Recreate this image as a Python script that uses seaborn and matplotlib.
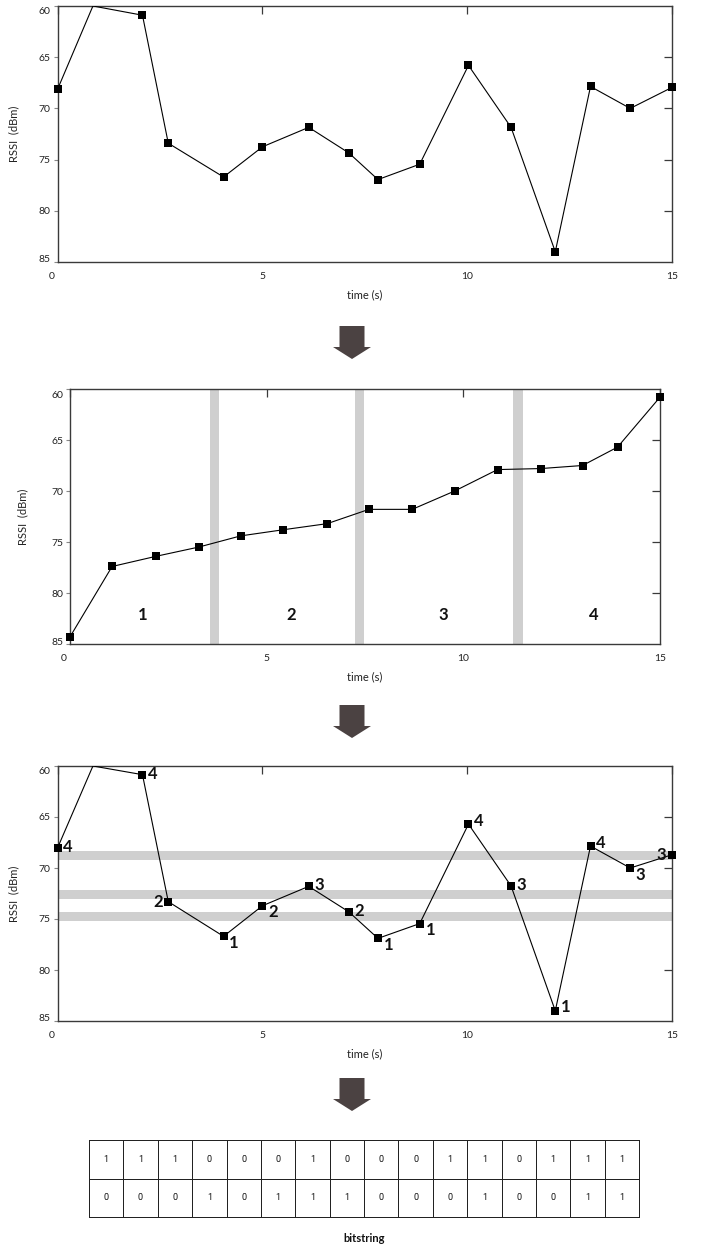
import numpy as np
import pandas as pd
import matplotlib
matplotlib.use("Agg")
import matplotlib.pyplot as plt
import matplotlib.transforms as mtrans
from matplotlib.colors import ListedColormap
from matplotlib.patches import Polygon
import seaborn as sns

# ---------------- data ----------------
sample_time = [0.0, 2.07, 2.70, 4.05, 5.0, 6.13, 7.11, 7.82, 8.84, 10.03, 11.07, 12.15, 13.01, 13.98, 15.0]
rssi_raw = [68.1, 60.9, 73.4, 76.7, 73.75, 71.85, 74.35, 76.95, 75.45, 65.8, 71.85, 84.0, 67.86, 70.0, 67.95]
peak_time = 0.86
peak_rssi = 60.0

sorted_time = [0.0, 1.07, 2.19, 3.27, 4.34, 5.42, 6.54, 7.6, 8.7, 9.78, 10.87, 11.97, 13.03, 13.92, 15.0]
sorted_rssi = [84.3, 77.4, 76.4, 75.5, 74.4, 73.8, 73.2, 71.8, 71.8, 70.0, 67.9, 67.8, 67.5, 65.7, 60.8]
region_bounds = [3.67, 7.36, 11.39]
region_names = ["1", "2", "3", "4"]
region_centers = [1.85, 5.63, 9.48, 13.31]
region_label_rssi = 82.2

rssi_quant = [68.0, 60.85, 73.3, 76.7, 73.7, 71.8, 74.3, 76.9, 75.45, 65.7, 71.76, 84.0, 67.85, 70.0, 68.7]
thresholds = [68.75, 72.6, 74.75]
levels = ["4", "4", "2", "1", "2", "3", "2", "1", "1", "4", "3", "1", "4", "3", "3"]

bits_row1 = [1, 1, 1, 0, 0, 0, 1, 0, 0, 0, 1, 1, 0, 1, 1, 1]
bits_row2 = [0, 0, 0, 1, 0, 1, 1, 1, 0, 0, 0, 1, 0, 0, 1, 1]

x_ticks = [0, 5, 10, 15]
y_ticks = [60, 65, 70, 75, 80, 85]

# ---------------- style ----------------
sns.set_style("white")
plt.rcParams["font.family"] = ["Lato", "DejaVu Sans"]

W, H = 701, 1250
fig = plt.figure(figsize=(W / 100, H / 100), dpi=100)
fig.patch.set_facecolor("white")

px = 72 / 100.0  # points per pixel


def px_axes(left, top, right, bottom):
    return fig.add_axes([left / W, 1 - bottom / H, (right - left) / W, (bottom - top) / H])


SPINE = "#3a3a3a"
BAND = "#cfcfcf"


def style_axes(ax, ylab_x):
    ax.set_xlim(0, 15)
    ax.set_ylim(85, 60)
    ax.set_xticks(x_ticks)
    ax.set_yticks(y_ticks)
    ax.set_xticklabels([str(t) for t in x_ticks])
    ax.set_yticklabels([str(t) for t in y_ticks])
    for s in ax.spines.values():
        s.set_visible(True)
        s.set_color(SPINE)
        s.set_linewidth(1.0)
    ax.tick_params(axis="x", bottom=False, top=True, direction="in", length=6,
                   width=0.9, color=SPINE, labelsize=7.5, pad=7, labelcolor="#222")
    ax.tick_params(axis="y", left=True, right=False, direction="out", length=3,
                   width=0.8, color="#888", labelsize=7.5, pad=2, labelcolor="#222")
    sec = ax.secondary_yaxis("right")
    sec.set_yticks([65, 70, 75, 80])
    sec.tick_params(direction="in", length=6, width=0.9, color=SPINE, labelright=False)
    sec.spines["right"].set_visible(False)
    labs = ax.get_xticklabels()
    labs[0].set_transform(labs[0].get_transform() + mtrans.ScaledTranslation(-6 / 100, 0, fig.dpi_scale_trans))
    ylabs = ax.get_yticklabels()
    ylabs[0].set_transform(ylabs[0].get_transform() + mtrans.ScaledTranslation(0, -5 / 100, fig.dpi_scale_trans))
    ylabs[-1].set_transform(ylabs[-1].get_transform() + mtrans.ScaledTranslation(0, 3 / 100, fig.dpi_scale_trans))
    ax.set_xlabel("time (s)", fontsize=8, labelpad=6, color="#222")
    ax.set_ylabel("RSSI  (dBm)", fontsize=8, color="#222")
    ax.yaxis.set_label_coords(ylab_x, 0.5)
    ax.grid(False)


def draw_trace(ax, t, v, with_peak):
    tt = list(t)
    vv = list(v)
    if with_peak:
        tt = [t[0], peak_time] + list(t[1:])
        vv = [v[0], peak_rssi] + list(v[1:])
    df_line = pd.DataFrame({"time": tt, "rssi": vv})
    sns.lineplot(data=df_line, x="time", y="rssi", sort=False, estimator=None,
                 color="black", linewidth=0.8, ax=ax, zorder=3)
    df_pts = pd.DataFrame({"time": t, "rssi": v})
    sns.scatterplot(data=df_pts, x="time", y="rssi", marker="s", s=36,
                    color="black", linewidth=0, ax=ax, zorder=4)
    for c in ax.collections:
        c.set_clip_on(False)


# ---------------- panel 1: raw ----------------
ax1 = px_axes(57.7, 6, 672, 262)
draw_trace(ax1, sample_time, rssi_raw, True)
style_axes(ax1, -0.062)

# ---------------- panel 2: sorted ----------------
ax2 = px_axes(70, 389, 660, 644)
for b in region_bounds:
    ax2.axvspan(b - 0.115, b + 0.115, color=BAND, lw=0, zorder=1)
draw_trace(ax2, sorted_time, sorted_rssi, False)
for name, c in zip(region_names, region_centers):
    ax2.text(c, region_label_rssi, name, ha="center", va="center",
             fontsize=12, fontweight="bold", color="#111")
style_axes(ax2, -0.07)

# ---------------- panel 3: quantised ----------------
ax3 = px_axes(57.7, 766, 672, 1021)
for th in thresholds:
    ax3.axhspan(th - 0.43, th + 0.43, color=BAND, lw=0, zorder=1)
draw_trace(ax3, sample_time, rssi_quant, True)
placement = ["r", "r", "l", "rb", "rb", "r", "r", "rb", "rb", "ru", "r", "ru", "ru", "rb", "l"]
offs = {"r": (10.5, -1.0), "rb": (10.5, 6.5), "ru": (10.0, -3.5), "l": (-10.5, 0.5)}
for t, v, lab, p in zip(sample_time, rssi_quant, levels, placement):
    dx, dy = offs[p]
    ax3.annotate(lab, (t, v), xytext=(dx * px, -dy * px), textcoords="offset points",
                 ha="center", va="center", fontsize=12, fontweight="bold",
                 color="#111", annotation_clip=False, zorder=5)
style_axes(ax3, -0.062)

# ---------------- arrows ----------------
ARROW = "#4b4242"


def arrow(cx, top, shoulder, tip, shaft=25, head=38):
    pts = [(cx - shaft / 2, top), (cx + shaft / 2, top), (cx + shaft / 2, shoulder),
           (cx + head / 2, shoulder), (cx, tip), (cx - head / 2, shoulder),
           (cx - shaft / 2, shoulder)]
    pts = [(x / W, 1 - y / H) for x, y in pts]
    fig.patches.append(Polygon(pts, closed=True, transform=fig.transFigure,
                               facecolor=ARROW, edgecolor="none"))


arrow(352, 326, 347, 359)
arrow(352, 705, 726, 738)
arrow(352, 1078, 1099, 1111)

# ---------------- bitstring table ----------------
axt = px_axes(89, 1140, 639, 1217)
bits = np.array([bits_row1, bits_row2])
sns.heatmap(bits, annot=True, fmt="d", cmap=ListedColormap(["white"]), cbar=False,
            linewidths=0.6, linecolor="#222", xticklabels=False, yticklabels=False,
            annot_kws={"fontsize": 6.5, "color": "#111", "family": ["Roboto", "DejaVu Sans"]},
            ax=axt)
for c in axt.collections:
    c.set_clip_on(False)
fig.text(364 / W, 1 - 1238 / H, "bitstring", ha="center", va="center",
         fontsize=8, fontweight="bold", color="#111")

fig.savefig("out.png", dpi=100, facecolor="white")
